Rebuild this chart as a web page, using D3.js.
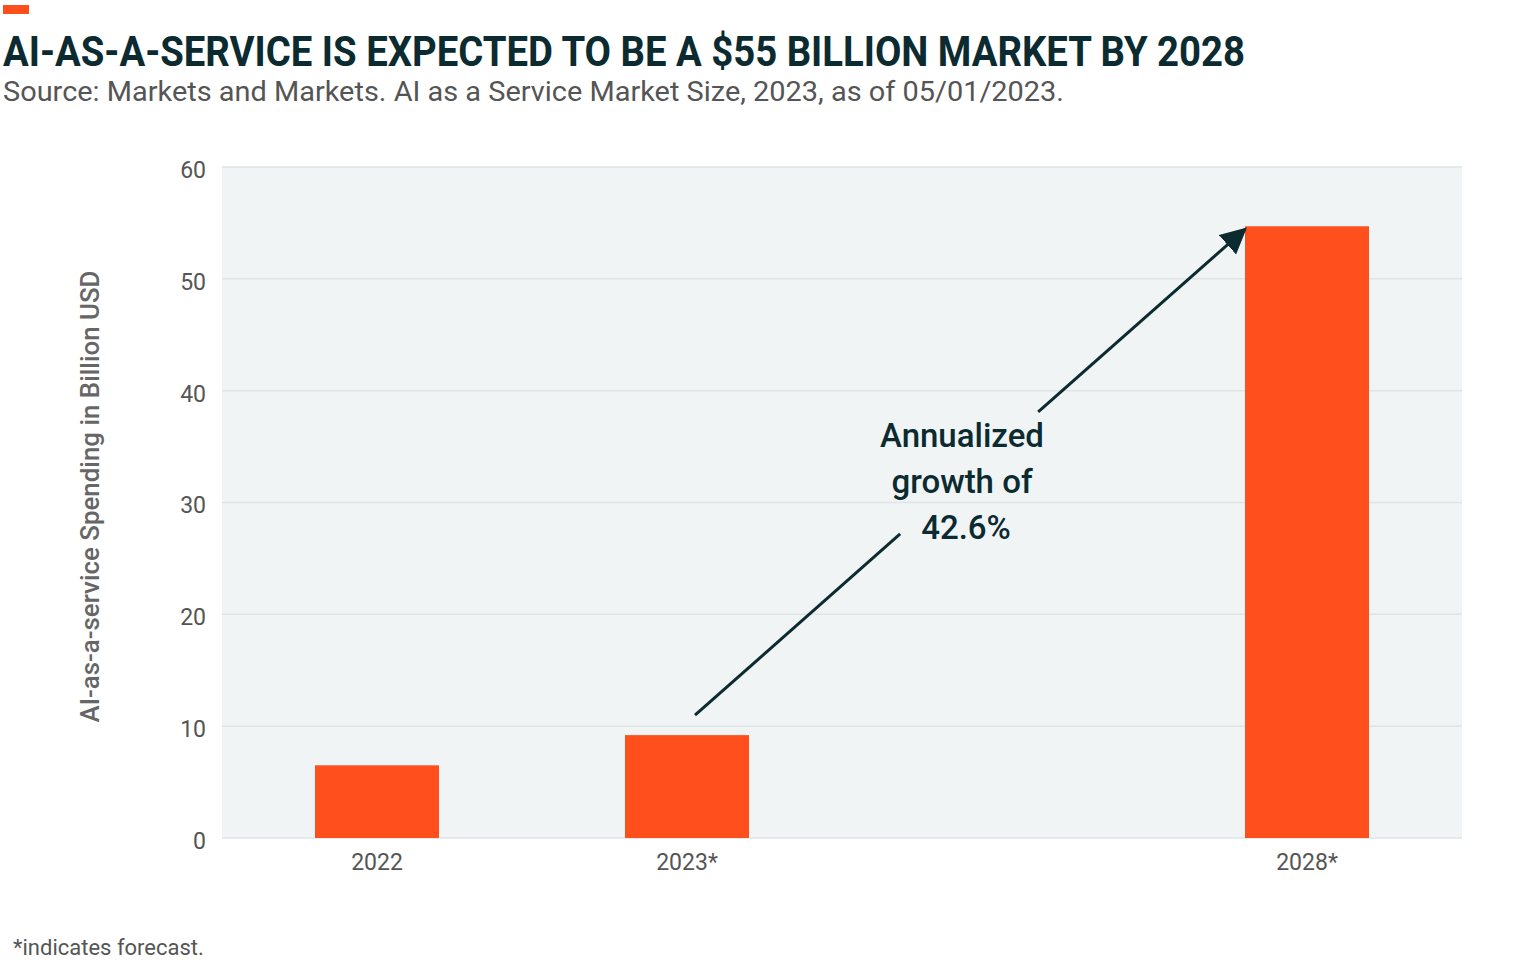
<!DOCTYPE html>
<html><head><meta charset="utf-8">
<script src="https://cdn.jsdelivr.net/npm/d3@7"></script>
<style>
html,body{margin:0;padding:0;background:#fff;}
svg{display:block;}
</style></head>
<body>
<svg id="chart" width="1536" height="967"></svg>
<script>
const categories = ["2022", "2023*", "", "2028*"];
const values = [6.5, 9.2, null, 54.7];
const yTicks = [0, 10, 20, 30, 40, 50, 60];
const title = "AI-AS-A-SERVICE IS EXPECTED TO BE A $55 BILLION MARKET BY 2028";
const subtitle = "Source: Markets and Markets. AI as a Service Market Size, 2023, as of 05/01/2023.";
const yLabel = "AI-as-a-service Spending in Billion USD";
const annotation = ["Annualized", "growth of", "42.6%"];
const footnote = "*indicates forecast.";

const svg = d3.select("#chart");
const plot = {left: 222, right: 1462, top: 167, bottom: 838};
const dark = "#0b2b31", grey = "#555", orange = "#FE4F1D";

const x = d3.scaleBand().domain(categories).range([plot.left, plot.right]).paddingInner(0.6).paddingOuter(0.3);
const y = d3.scaleLinear().domain([0, 60]).range([plot.bottom, plot.top]);

// header
svg.append("rect").attr("x", 3).attr("y", 5).attr("width", 26).attr("height", 9).attr("fill", orange);
svg.append("text").attr("x", 3).attr("y", 66).text(title)
  .attr("font-family", "Roboto, sans-serif").attr("font-weight", 700).attr("font-size", 42)
  .attr("fill", dark).attr("textLength", 1242).attr("lengthAdjust", "spacingAndGlyphs");
svg.append("text").attr("x", 3).attr("y", 101).text(subtitle)
  .attr("font-family", "Roboto, sans-serif").attr("font-size", 28)
  .attr("fill", grey).attr("textLength", 1061).attr("lengthAdjust", "spacingAndGlyphs");

// plot background
svg.append("rect").attr("x", plot.left).attr("y", plot.top).attr("width", plot.right - plot.left)
  .attr("height", plot.bottom - plot.top).attr("fill", "#f1f4f5");

// grid
svg.append("g").selectAll("line").data(yTicks).join("line")
  .attr("x1", plot.left).attr("x2", plot.right)
  .attr("y1", d => y(d)).attr("y2", d => y(d))
  .attr("stroke", "#e1e4e6").attr("stroke-width", 1.5);

// y axis
const yAxis = svg.append("g").attr("transform", `translate(${plot.left},0)`)
  .call(d3.axisLeft(y).tickValues(yTicks).tickSize(0).tickPadding(16));
yAxis.select(".domain").remove();
yAxis.selectAll("text").attr("font-family", "Roboto, sans-serif").attr("font-size", 23)
  .attr("fill", grey).attr("dy", "0.45em");

// x axis
const xAxis = svg.append("g").attr("transform", `translate(0,${plot.bottom})`)
  .call(d3.axisBottom(x).tickSize(0).tickPadding(16));
xAxis.select(".domain").remove();
xAxis.selectAll("text").attr("font-family", "Roboto, sans-serif").attr("font-size", 23).attr("fill", grey);

// bars
const data = categories.map((c, i) => ({c, v: values[i]})).filter(d => d.v != null);
svg.append("g").selectAll("rect").data(data).join("rect")
  .attr("x", d => x(d.c)).attr("width", x.bandwidth())
  .attr("y", d => y(d.v)).attr("height", d => y(0) - y(d.v))
  .attr("fill", orange);

// y label
svg.append("text").attr("transform", `translate(99,${(plot.top + plot.bottom) / 2 - 6}) rotate(-90)`)
  .attr("text-anchor", "middle").text(yLabel)
  .attr("font-family", "Roboto, sans-serif").attr("font-weight", 500).attr("font-size", 25)
  .attr("fill", "#666").attr("textLength", 452).attr("lengthAdjust", "spacingAndGlyphs");

// arrow
const defs = svg.append("defs");
defs.append("marker").attr("id", "arr").attr("viewBox", "0 0 10 10").attr("refX", 9).attr("refY", 5)
  .attr("markerWidth", 26).attr("markerHeight", 26).attr("markerUnits", "userSpaceOnUse")
  .attr("orient", "auto")
  .append("path").attr("d", "M0,0 L10,5 L0,10 Z").attr("fill", dark);
const a0 = {x: x("2023*") + x.bandwidth() / 2 + 8, y: y(values[1]) - 20};
const a1 = {x: x("2028*"), y: y(values[3]) + 3};
const lerp = t => ({x: a0.x + (a1.x - a0.x) * t, y: a0.y + (a1.y - a0.y) * t});
const p1 = lerp(0.373), p2 = lerp(0.624);
svg.append("line").attr("x1", a0.x).attr("y1", a0.y).attr("x2", p1.x).attr("y2", p1.y)
  .attr("stroke", dark).attr("stroke-width", 3);
svg.append("line").attr("x1", p2.x).attr("y1", p2.y).attr("x2", a1.x).attr("y2", a1.y)
  .attr("stroke", dark).attr("stroke-width", 3).attr("marker-end", "url(#arr)");

// annotation text
svg.append("g").selectAll("text").data(annotation).join("text")
  .attr("x", (d, i) => i === 2 ? 966 : 962).attr("y", (d, i) => 447 + i * 46)
  .attr("text-anchor", "middle").text(d => d)
  .attr("font-family", "Roboto, sans-serif").attr("font-weight", 500).attr("font-size", 33).attr("fill", dark);

// footnote
svg.append("text").attr("x", 13).attr("y", 955).text(footnote)
  .attr("font-family", "Roboto, sans-serif").attr("font-size", 22).attr("fill", grey);
</script>
</body></html>
